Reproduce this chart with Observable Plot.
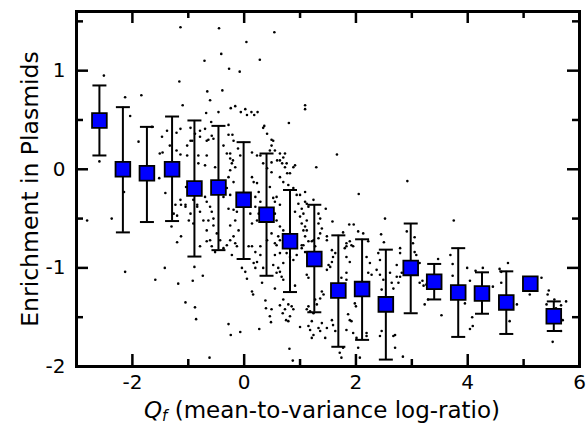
<!DOCTYPE html>
<html><head><meta charset="utf-8">
<script src="https://cdn.jsdelivr.net/npm/d3@7"></script>
<script src="https://cdn.jsdelivr.net/npm/@observablehq/plot@0.6"></script>
<style>body{margin:0;background:#fff}</style>
</head><body><div id="chart"></div>
<script>
// Binned means (blue squares) with error bars
const binQ    = [-2.59,-2.17,-1.74,-1.29,-0.89,-0.46,-0.01,0.40,0.82,1.255,1.685,2.11,2.535,2.98,3.40,3.83,4.255,4.69,5.12,5.54];
const binMean = [0.495,0.0,-0.04,0.0,-0.195,-0.185,-0.31,-0.46,-0.73,-0.91,-1.23,-1.215,-1.37,-1.00,-1.14,-1.25,-1.26,-1.35,-1.16,-1.49];
const binHi   = [0.85,0.63,0.43,0.535,0.495,0.44,0.275,0.16,-0.21,-0.36,-0.67,-0.71,-0.815,-0.55,-0.96,-0.80,-1.045,-1.035,-1.16,-1.34];
const binLo   = [0.14,-0.64,-0.535,-0.525,-0.885,-0.82,-0.91,-1.08,-1.245,-1.45,-1.80,-1.73,-1.93,-1.46,-1.32,-1.70,-1.465,-1.67,-1.16,-1.64];

// Individual points (small dots)
const scatterQ = [
-1.14,-0.45,0.54,0.04,-0.41,-0.71,0.28,-0.27,-0.08,-1.16,
-0.66,-0.39,-0.61,-1.10,-0.24,-0.16,-0.06,0.02,0.05,0.13,
0.18,0.24,-0.46,-0.68,1.09,1.09,0.80,0.36,0.49,-1.65,
-1.38,-1.14,-1.47,-1.21,-0.96,-0.79,-0.70,-0.59,-0.58,-0.28,
-0.28,-0.21,-0.64,-2.51,-2.13,-1.84,-2.59,-2.04,-1.89,-1.51,
-1.14,-1.41,-1.14,-1.05,-0.96,-0.88,-0.19,-0.11,-0.07,-0.25,
-0.20,-0.16,0.34,0.41,0.52,0.46,0.59,0.68,0.70,0.88,
0.77,0.46,0.52,0.55,-1.02,-0.93,-0.79,-0.67,-0.55,-1.02,
-0.82,-0.67,-0.37,-0.31,-0.25,-0.22,0.14,0.23,0.29,0.49,
0.55,0.64,0.73,0.82,0.91,-0.70,-0.52,-0.82,-0.25,-0.28,
-0.19,-0.31,-0.25,-0.37,-0.70,-0.67,-0.61,-0.58,-0.55,-0.64,
-0.96,-0.99,-0.84,-0.91,-0.28,-0.19,-0.13,-0.16,-0.25,-0.10,
-0.19,-0.25,-0.16,0.14,0.17,0.23,0.26,0.20,0.29,0.20,
0.11,0.26,0.23,0.32,0.14,0.58,0.64,0.55,0.58,0.64,
0.70,0.61,0.55,0.64,0.70,0.79,0.88,0.94,0.97,0.91,
1.00,1.09,1.12,0.34,0.41,0.49,0.49,0.64,0.73,0.76,
0.41,0.49,0.64,0.58,1.09,1.03,1.12,1.66,1.29,2.05,
2.92,1.09,1.00,1.12,1.15,1.24,1.03,1.06,1.03,1.09,
1.06,1.15,1.06,1.03,1.33,1.36,1.33,1.39,1.36,1.33,
1.24,1.46,1.48,1.48,1.58,1.77,1.88,1.96,2.04,2.22,
1.89,1.92,1.83,2.52,2.45,2.50,2.91,3.02,3.05,2.79,
-0.89,-0.74,-0.92,-1.05,-0.88,-0.86,-0.28,-0.24,-0.07,0.27,
-0.62,-0.79,-0.67,-0.58,-0.52,-0.37,-0.31,-0.22,-0.13,-0.04,
0.02,0.05,0.14,0.16,0.08,0.14,0.20,0.29,0.29,0.23,
0.17,0.34,0.20,0.55,0.52,0.61,0.64,0.58,0.70,0.67,
0.70,0.55,0.32,0.38,0.39,0.49,0.46,0.48,0.64,0.70,
0.73,0.75,0.79,0.82,0.69,0.88,0.79,0.85,1.00,1.15,
0.81,0.87,0.91,0.64,0.76,0.82,0.88,0.94,1.09,1.15,
1.21,1.27,1.12,1.15,1.39,1.42,1.36,1.27,1.30,1.15,
1.12,1.18,1.51,1.57,1.59,1.54,1.48,1.63,1.57,1.57,
1.59,1.48,1.33,1.18,1.24,1.21,1.45,1.63,1.39,1.83,
1.95,1.80,1.83,1.89,1.83,1.74,1.83,1.86,1.89,1.92,
1.83,1.95,2.01,2.19,2.19,1.71,1.74,2.19,2.25,2.22,
2.28,2.19,1.98,2.00,2.40,2.43,2.37,2.43,2.46,2.49,
2.61,2.64,2.67,2.73,2.46,2.43,2.70,2.70,2.84,2.79,
2.73,2.79,2.76,2.82,3.05,3.14,3.26,3.23,3.29,-2.81,
-2.37,-2.13,-1.59,-1.42,-1.18,-2.15,-1.21,-1.46,-1.33,-1.23,
-1.13,-1.20,-1.30,-1.13,-1.20,-1.04,-1.52,3.75,3.47,3.14,
3.19,3.21,3.69,3.73,3.73,3.53,3.99,4.04,3.95,4.08,
4.04,4.14,4.27,4.45,4.57,4.60,4.72,4.60,4.88,4.75,
5.32,5.11,5.45,5.43,5.55,5.58,5.67,5.61,5.70,5.67,
5.52,5.41,5.76,2.13,3.05,3.08,4.09,2.67,2.07,2.04,
1.77,1.24,1.21,1.36,-0.91,-0.79,-0.73,-0.67,-0.61,-0.55,
-0.49,-0.43,-1.26,-1.05,-0.84];
const scatterE = [
1.44,1.43,1.39,1.29,1.17,1.10,1.11,1.02,0.99,0.89,
0.79,0.80,0.70,0.65,0.62,0.64,0.58,0.61,0.55,0.58,
0.55,0.58,0.58,0.57,0.65,0.61,0.47,0.44,0.30,0.43,
0.39,0.41,0.33,0.37,0.42,0.39,0.41,0.48,0.34,0.45,
0.35,0.35,0.30,0.95,0.73,0.75,0.08,0.54,0.28,0.16,
0.15,-0.24,-0.31,-0.38,0.29,0.36,0.29,0.21,0.14,0.16,
0.09,0.02,0.42,0.36,0.29,0.19,0.09,0.06,0.12,0.02,
-0.04,-0.18,-0.29,-0.33,0.24,0.29,0.33,0.29,0.31,0.14,
0.14,0.14,0.24,0.16,0.11,0.06,0.17,0.14,0.14,0.24,
0.19,0.09,0.02,-0.04,0.04,0.04,0.02,0.06,-0.01,-0.08,
-0.13,-0.19,-0.26,-0.28,-0.28,-0.33,-0.38,-0.43,-0.50,-0.52,
-0.45,-0.52,-0.38,-0.31,-0.40,-0.41,-0.43,-0.52,-0.57,-0.62,
-0.68,-0.72,-0.75,-0.08,-0.13,-0.14,-0.23,-0.28,-0.33,-0.38,
-0.45,-0.45,-0.52,-0.50,-0.55,-0.28,-0.36,-0.45,-0.52,-0.58,
-0.62,-0.68,-0.75,-0.08,-0.13,-0.16,-0.19,-0.26,-0.35,-0.43,
-0.48,-0.33,-0.52,0.06,0.01,-0.03,0.07,0.16,0.16,0.06,
-0.72,-0.65,-0.72,-0.77,-0.68,-0.77,-0.62,0.15,0.02,-0.25,
-0.12,-0.23,-0.26,-0.35,-0.38,-0.31,-0.40,-0.45,-0.55,-0.58,
-0.62,-0.73,-0.77,-0.80,-0.45,-0.50,-0.55,-0.60,-0.65,-0.70,
-0.72,-0.40,-0.68,-0.72,-0.53,-0.64,-0.56,-0.56,-0.63,-0.73,
-0.73,-0.77,-0.78,-0.50,-0.66,-0.74,-0.63,-0.75,-0.69,-0.80,
-0.99,-1.08,-1.13,-1.35,-1.40,-1.52,-1.57,-1.68,-1.65,-1.62,
-1.91,-0.78,-0.73,-0.78,-0.84,-0.80,-0.77,-0.87,-0.78,-1.00,
-1.04,-1.11,-1.24,-1.27,-0.78,-0.78,-0.84,-0.87,-0.78,-0.94,
-0.95,-1.00,-1.00,-0.87,-0.97,-1.00,-1.04,-1.05,-0.95,-1.09,
-1.12,-1.21,-1.15,-1.33,-1.41,-1.42,-1.49,-1.55,-1.38,-1.32,
-1.42,-1.53,-1.54,-1.49,-1.46,-1.42,-1.37,-1.39,-1.60,-1.59,
-1.82,-1.94,-1.18,-0.85,-0.85,-0.89,-0.92,-0.87,-0.84,-0.85,
-0.73,-0.78,-1.07,-1.10,-1.24,-1.27,-1.31,-1.32,-1.37,-1.39,
-1.42,-1.44,-0.97,-0.94,-0.89,-0.99,-1.02,-0.85,-0.82,-1.53,
-1.58,-1.61,-1.61,-1.63,-1.68,-1.71,-1.71,-1.64,-1.56,-0.75,
-0.78,-0.80,-0.89,-0.94,-1.05,-1.10,-1.12,-1.47,-1.53,-1.54,
-1.63,-1.66,-1.71,-1.66,-1.69,-1.86,-1.91,-0.89,-0.95,-1.05,
-1.07,-1.15,-1.36,-1.39,-0.85,-0.92,-1.02,-1.07,-1.22,-1.12,
-1.05,-1.15,-1.21,-1.09,-1.64,-1.69,-1.68,-1.81,-1.90,-0.85,
-0.97,-1.09,-1.15,-1.05,-1.02,-1.15,-1.17,-1.37,-1.32,-0.52,
-0.50,-1.04,-1.12,-1.00,-1.16,-0.23,0.19,0.17,0.24,-0.36,
-0.36,-0.47,-0.58,-0.68,-0.74,-0.18,-0.09,-0.52,-0.91,-0.95,
-1.13,-1.18,-0.87,-0.96,-1.08,-1.48,-1.00,-1.13,-1.36,-1.50,
-1.62,-1.03,-1.00,-1.19,-1.01,-1.04,-0.95,-1.15,-1.37,-1.54,
-1.10,-1.27,-1.23,-1.27,-1.32,-1.41,-1.38,-1.44,-1.53,-1.64,
-1.75,-1.37,-1.34,-0.65,-0.84,-0.87,-1.59,-1.69,-1.91,-1.81,
-1.81,-1.46,-1.54,-1.64,-0.55,-0.43,-0.52,-0.62,-0.72,-0.57,
-0.65,-0.72,-0.45,-0.36,-0.36];

// Axes
const xMajorTicks = [-2, 0, 2, 4];
const xMinorTicks = [-1, 1, 3, 5];
const yMajorTicks = [-1, 0, 1];
const yMinorTicks = [-1.5, -0.5, 0.5, 1.5];
const xTickLabels = [-2, 0, 2, 4, 6];
const yTickLabels = [-2, -1, 0, 1];
const xTitle = "Qf (mean-to-variance log-ratio)";
const yTitle = "Enrichment in Plasmids";

const bins = binQ.map((q, i) => ({q, mean: binMean[i], lo: binLo[i], hi: binHi[i]}));
const points = scatterQ.map((q, i) => ({q, e: scatterE[i]}));

const W = 588, H = 425, mL = 76, mR = 9, mT = 11, mB = 59;
const pw = W - mL - mR, ph = H - mT - mB;
const majorLen = 12, minorLen = 7, tickW = 2.5;

const capSymbol = {draw(ctx, size) { const w = Math.sqrt(size / Math.PI); ctx.moveTo(-w, 0); ctx.lineTo(w, 0); }};

const chart = Plot.plot({
  width: W, height: H,
  marginLeft: mL, marginRight: mR, marginTop: mT, marginBottom: mB,
  style: {fontFamily: "DejaVu Sans", background: "#fff", color: "black", overflow: "visible"},
  x: {domain: [-3, 6]},
  y: {domain: [-2, 1.6]},
  marks: [
    Plot.dot(points, {x: "q", y: "e", r: 1.3, fill: "black"}),
    Plot.ruleX(bins, {x: "q", y1: "lo", y2: "hi", stroke: "black", strokeWidth: 2}),
    Plot.dot(bins, {x: "q", y: "hi", symbol: capSymbol, r: 7, fill: "none", stroke: "black", strokeWidth: 2}),
    Plot.dot(bins, {x: "q", y: "lo", symbol: capSymbol, r: 7, fill: "none", stroke: "black", strokeWidth: 2}),
    Plot.dot(bins, {x: "q", y: "mean", symbol: "square", r: 8.3, fill: "#0000ff", stroke: "black", strokeWidth: 1.8}),
    // inward ticks on all four sides
    Plot.tickX(xMajorTicks, {x: d => d, insetTop: ph - majorLen, strokeWidth: tickW}),
    Plot.tickX(xMinorTicks, {x: d => d, insetTop: ph - minorLen, strokeWidth: tickW}),
    Plot.tickX(xMajorTicks, {x: d => d, insetBottom: ph - majorLen, strokeWidth: tickW}),
    Plot.tickX(xMinorTicks, {x: d => d, insetBottom: ph - minorLen, strokeWidth: tickW}),
    Plot.tickY(yMajorTicks, {y: d => d, insetRight: pw - majorLen, strokeWidth: tickW}),
    Plot.tickY(yMinorTicks, {y: d => d, insetRight: pw - minorLen, strokeWidth: tickW}),
    Plot.tickY(yMajorTicks, {y: d => d, insetLeft: pw - majorLen, strokeWidth: tickW}),
    Plot.tickY(yMinorTicks, {y: d => d, insetLeft: pw - minorLen, strokeWidth: tickW}),
    Plot.frame({stroke: "black", strokeWidth: 3}),
    Plot.axisX(xTickLabels, {tickSize: 0, tickPadding: 8, fontSize: 20, label: null, tickFormat: d => String(d)}),
    Plot.axisY(yTickLabels, {tickSize: 0, tickPadding: 11, fontSize: 20, label: null, tickFormat: d => String(d)}),
    Plot.text([yTitle], {text: d => d, frameAnchor: "left", rotate: -90, dx: -39, lineAnchor: "bottom", textAnchor: "middle", fontSize: 23.5}),
    Plot.text([xTitle], {text: d => d, frameAnchor: "bottom", dy: 51, dx: -6, lineAnchor: "bottom", textAnchor: "middle", fontSize: 23})
  ]
});

// Italic Q with subscript f in the x-axis title
d3.select(chart).selectAll("text").filter(function() { return this.textContent === xTitle; }).each(function() {
  const t = d3.select(this);
  t.text(null);
  t.append("tspan").attr("font-style", "italic").text("Q");
  t.append("tspan").attr("font-style", "italic").attr("font-size", "15px").attr("dy", 3.5).text("f");
  t.append("tspan").attr("dy", -3.5).text(" (mean-to-variance log-ratio)");
});

document.getElementById("chart").append(chart);
</script>
</body></html>
